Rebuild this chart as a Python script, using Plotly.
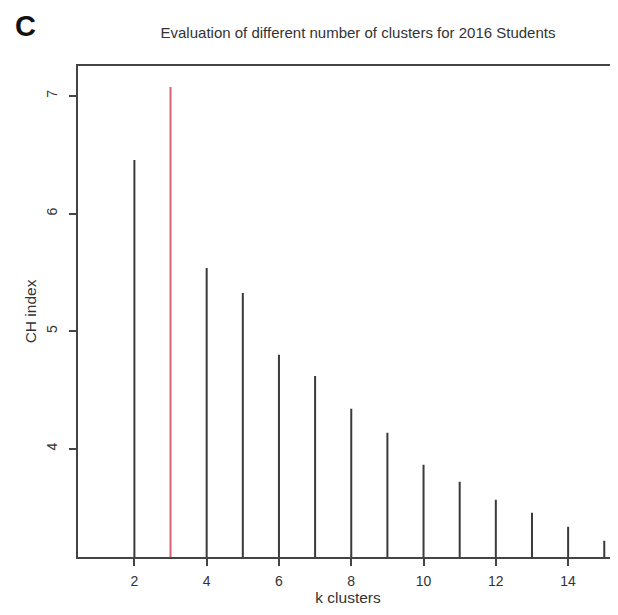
import plotly.graph_objects as go

k_values = [2, 3, 4, 5, 6, 7, 8, 9, 10, 11, 12, 13, 14, 15]
ch_index = [6.455, 7.076, 5.538, 5.325, 4.80, 4.62, 4.34, 4.136, 3.864, 3.72, 3.567, 3.456, 3.337, 3.218]
best_k = 3
x_ticks = [2, 4, 6, 8, 10, 12, 14]
y_ticks = [4, 5, 6, 7]

fig = go.Figure()

# vertical "h" style lines from 0 up to each value
for k, v in zip(k_values, ch_index):
    fig.add_trace(go.Scatter(
        x=[k, k], y=[0, v], mode="lines",
        line=dict(color="#d9606e" if k == best_k else "#3a3a3a", width=2),
        showlegend=False, hoverinfo="skip", cliponaxis=True,
    ))

font_family = "Liberation Sans, Arial, sans-serif"

# page body has an 8px margin: figure coords = window coords - 8
L, T, B, R = 70, 58, 66, 8
pw, ph = 618 - L - R, 615 - T - B

fig.update_layout(
    width=618, height=615,
    margin=dict(l=L, r=R, t=T, b=B, autoexpand=False),
    paper_bgcolor="white", plot_bgcolor="white",
    font=dict(family=font_family, size=14, color="#333333"),
    xaxis=dict(
        range=[0.44, 15.38], tickmode="array", tickvals=x_ticks,
        ticks="outside", ticklen=7, tickwidth=1.5, tickcolor="#444444",
        ticklabelstandoff=3,
        showline=True, linecolor="#444444", linewidth=1.5, mirror=True,
        showgrid=False, zeroline=False, automargin=False,
        title=dict(text="k clusters", standoff=2, font=dict(size=15.5)),
    ),
    yaxis=dict(
        range=[3.08, 7.255], tickmode="array", tickvals=y_ticks,
        ticks="outside", ticklen=7, tickwidth=1.5, tickcolor="#444444",
        tickangle=-90, ticklabelstandoff=7,
        showline=True, linecolor="#444444", linewidth=1.5, mirror=False,
        showgrid=False, zeroline=False, automargin=False,
        title=dict(text="CH index", standoff=3, font=dict(size=15.5)),
    ),
    title=dict(
        text="Evaluation of different number of clusters for 2016 Students",
        x=350 / 618, xanchor="center", y=1 - 25 / 615, yanchor="middle",
        font=dict(size=15, color="#333333"),
    ),
    annotations=[dict(
        text="<b>C</b>", xref="paper", yref="paper",
        x=(17 - L) / pw, y=(615 - B - 1) / ph,
        xanchor="center", yanchor="top", showarrow=False, borderpad=0,
        font=dict(size=29, color="#111111", family=font_family),
    )],
)

fig.write_html("out.html")
